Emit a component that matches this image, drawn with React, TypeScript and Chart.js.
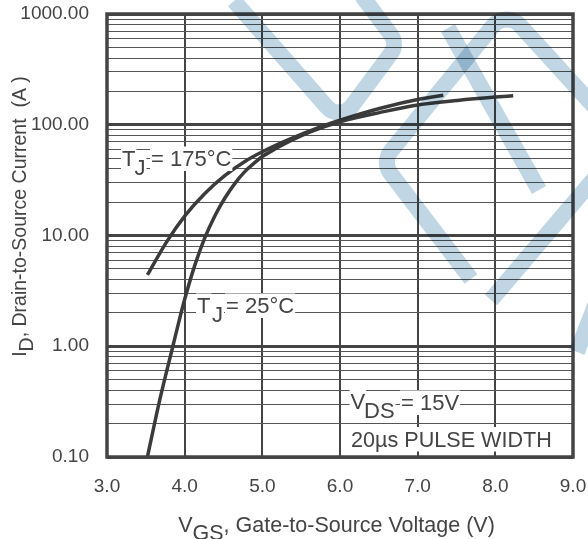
import { useEffect, useRef } from 'react';
import { Chart, registerables } from 'chart.js';

Chart.register(...registerables);

// Transfer characteristics: drain current vs gate-source voltage, VDS = 15 V
const vgs175 = [3.52, 3.77, 4.01, 4.26, 4.52, 4.78, 5.0, 5.36, 5.74, 6.0, 6.52, 7.03, 7.33];
const id175 = [4.4, 8.81, 15.3, 24.0, 34.9, 46.9, 57.1, 74.7, 95.2, 109.9, 141.1, 170.8, 184.8];

const vgs25 = [
  3.52, 3.68, 3.84, 3.94, 4.01, 4.13, 4.26, 4.39, 4.52, 4.65, 4.78,
  4.91, 5.0, 5.18, 5.36, 5.65, 6.0, 6.52, 7.0, 7.51, 8.0, 8.23,
];
const id25 = [
  0.1, 0.33, 0.95, 1.83, 2.81, 5.37, 9.57, 15.1, 21.9, 29.7, 38.1,
  46.0, 51.7, 61.3, 71.4, 88.0, 106.5, 129.3, 150.8, 165.6, 177.7, 182.6,
];

const xTickValues = [3, 4, 5, 6, 7, 8, 9];
const xTickLabels = ['3.0', '4.0', '5.0', '6.0', '7.0', '8.0', '9.0'];
const yDecades = [0.1, 1, 10, 100, 1000];
const yTickLabels = ['0.10', '1.00', '10.00', '100.00', '1000.00'];
const yMinorSteps = [2, 3, 4, 5, 6, 7, 8, 9];

const FONT = '"Liberation Sans", Arial, Helvetica, sans-serif';
const INK = '#444444';
const CURVE = '#3b3b3b';

type Run = { text: string; x: number; y: number };

const isDecade = (v: number) => {
  const l = Math.log10(v);
  return Math.abs(l - Math.round(l)) < 1e-6;
};

// every grid value: decades plus 2..9 multiples inside each decade
const yGridValues: number[] = [];
yDecades.forEach((d, i) => {
  yGridValues.push(d);
  if (i < yDecades.length - 1) yMinorSteps.forEach((m) => yGridValues.push(+(d * m).toPrecision(6)));
});

function boxedRuns(ctx: CanvasRenderingContext2D, runs: Run[], size: number) {
  ctx.save();
  ctx.font = `${size}px ${FONT}`;
  ctx.textAlign = 'left';
  ctx.textBaseline = 'alphabetic';
  ctx.fillStyle = '#ffffff';
  runs.forEach((r) => {
    const w = ctx.measureText(r.text).width;
    ctx.fillRect(r.x - 1, r.y - 19.5, w + 2, 24.5);
  });
  ctx.fillStyle = INK;
  runs.forEach((r) => ctx.fillText(r.text, r.x, r.y));
  ctx.restore();
}

// text with a lowered subscript run, laid out along the current baseline
function subscriptTitle(
  ctx: CanvasRenderingContext2D,
  parts: { text: string; sub?: boolean }[],
  size: number,
  cx: number,
  cy: number,
  angle: number,
) {
  ctx.save();
  ctx.font = `${size}px ${FONT}`;
  ctx.fillStyle = INK;
  ctx.textBaseline = 'alphabetic';
  ctx.textAlign = 'left';
  const widths = parts.map((p) => ctx.measureText(p.text).width);
  const total = widths.reduce((a, b) => a + b, 0);
  ctx.translate(cx, cy);
  ctx.rotate(angle);
  let x = -total / 2;
  parts.forEach((p, i) => {
    ctx.fillText(p.text, x, p.sub ? size * 0.38 : 0);
    x += widths[i];
  });
  ctx.restore();
}

function roundedPath(ctx: CanvasRenderingContext2D, pts: number[][], r: number) {
  ctx.beginPath();
  ctx.moveTo(pts[0][0], pts[0][1]);
  for (let i = 1; i < pts.length - 1; i++) {
    ctx.arcTo(pts[i][0], pts[i][1], pts[i + 1][0], pts[i + 1][1], r);
  }
  const last = pts[pts.length - 1];
  ctx.lineTo(last[0], last[1]);
  ctx.stroke();
}

const decorPlugin = {
  id: 'decor',
  afterDatasetsDraw(chart: any) {
    const { ctx, chartArea: ca } = chart;
    // frame
    ctx.save();
    ctx.strokeStyle = INK;
    ctx.lineWidth = 3.5;
    ctx.strokeRect(ca.left, ca.top, ca.right - ca.left, ca.bottom - ca.top);
    ctx.restore();

    // curve labels
    boxedRuns(ctx, [
      { text: 'T', x: 122, y: 166 },
      { text: 'J', x: 134.5, y: 174.5 },
      { text: '= 175°C', x: 151, y: 166 },
    ], 22);
    boxedRuns(ctx, [
      { text: 'T', x: 197, y: 313 },
      { text: 'J', x: 212, y: 321.5 },
      { text: '= 25°C', x: 226, y: 313 },
    ], 22);
    // test conditions
    boxedRuns(ctx, [
      { text: 'V', x: 350.5, y: 409 },
      { text: 'DS', x: 364, y: 418 },
      { text: '= 15V', x: 401, y: 410 },
    ], 22);
    boxedRuns(ctx, [{ text: '20µs PULSE WIDTH', x: 351, y: 446.5 }], 21.6);

    // axis titles
    subscriptTitle(ctx, [
      { text: 'V' },
      { text: 'GS', sub: true },
      { text: ', Gate-to-Source Voltage (V)' },
    ], 21.5, 336.5, 532, 0);
    subscriptTitle(ctx, [
      { text: 'I' },
      { text: 'D', sub: true },
      { text: ', Drain-to-Source Current  (A )' },
    ], 19.5, 26, 216.5, -Math.PI / 2);
  },
  afterDraw(chart: any) {
    const { ctx } = chart;
    // pale logo mark, blended so the lines under it stay dark
    ctx.save();
    ctx.globalCompositeOperation = 'multiply';
    ctx.strokeStyle = 'rgb(193,214,228)';
    ctx.lineWidth = 16;
    ctx.lineCap = 'butt';
    ctx.lineJoin = 'round';
    roundedPath(ctx, [[234, 1], [340, 122], [398, 44], [362, -4]], 16);
    roundedPath(ctx, [[471, 279], [382, 162], [506, 10], [610, 124]], 18);
    roundedPath(ctx, [[448, 28], [539, 190]], 0);
    roundedPath(ctx, [[491, 300], [610, 160]], 0);
    roundedPath(ctx, [[577, 352], [612, 262]], 0);
    ctx.restore();
  },
};

export default function App() {
  const ref = useRef<HTMLCanvasElement | null>(null);

  useEffect(() => {
    document.body.style.margin = '0';
    const canvas = ref.current;
    if (!canvas) return;

    const curve = (xs: number[], ys: number[], label: string) => ({
      label,
      data: xs.map((x, i) => ({ x, y: ys[i] })),
      borderColor: CURVE,
      borderWidth: 3.5,
      pointRadius: 0,
      cubicInterpolationMode: 'monotone',
      fill: false,
    });

    const chart = new Chart(canvas, {
      type: 'line',
      data: {
        datasets: [curve(vgs175, id175, 'TJ = 175°C'), curve(vgs25, id25, 'TJ = 25°C')],
      },
      options: {
        animation: false,
        responsive: false,
        devicePixelRatio: 1,
        layout: { padding: { left: 0, top: 14, right: 15, bottom: 0 } },
        plugins: { legend: { display: false }, tooltip: { enabled: false } },
        scales: {
          x: {
            type: 'linear',
            min: 3,
            max: 9,
            afterBuildTicks: (s: any) => {
              s.ticks = xTickValues.map((value) => ({ value }));
            },
            afterFit: (s: any) => {
              s.height = 82;
              s.paddingLeft = 0;
              s.paddingRight = 0;
            },
            ticks: {
              autoSkip: false,
              maxRotation: 0,
              padding: 18,
              color: INK,
              font: { family: FONT, size: 19 },
              callback: (v: any) => xTickLabels[xTickValues.indexOf(Number(v))] ?? '',
            },
            grid: { color: INK, lineWidth: 2, drawTicks: false },
            border: { display: false },
          },
          y: {
            type: 'logarithmic',
            min: 0.1,
            max: 1000,
            afterBuildTicks: (s: any) => {
              s.ticks = yGridValues.map((value) => ({ value }));
            },
            afterFit: (s: any) => {
              s.width = 107;
              s.paddingTop = 0;
              s.paddingBottom = 0;
            },
            ticks: {
              autoSkip: false,
              padding: 18,
              color: INK,
              font: { family: FONT, size: 19 },
              callback: (v: any) => {
                const n = Number(v);
                if (!isDecade(n)) return '';
                const k = yDecades.findIndex((d) => Math.abs(d - n) / d < 1e-6);
                return k >= 0 ? yTickLabels[k] : '';
              },
            },
            grid: {
              color: (c: any) => (c.tick && isDecade(c.tick.value) ? INK : '#555555'),
              lineWidth: (c: any) => (c.tick && isDecade(c.tick.value) ? 3 : 1),
              drawTicks: false,
            },
            border: { display: false },
          },
        },
      },
      plugins: [decorPlugin],
    } as any);

    return () => chart.destroy();
  }, []);

  return (
    <div style={{ width: 588, height: 539, position: 'relative', background: '#fff' }}>
      <canvas ref={ref} width={588} height={539} style={{ display: 'block' }} />
    </div>
  );
}
